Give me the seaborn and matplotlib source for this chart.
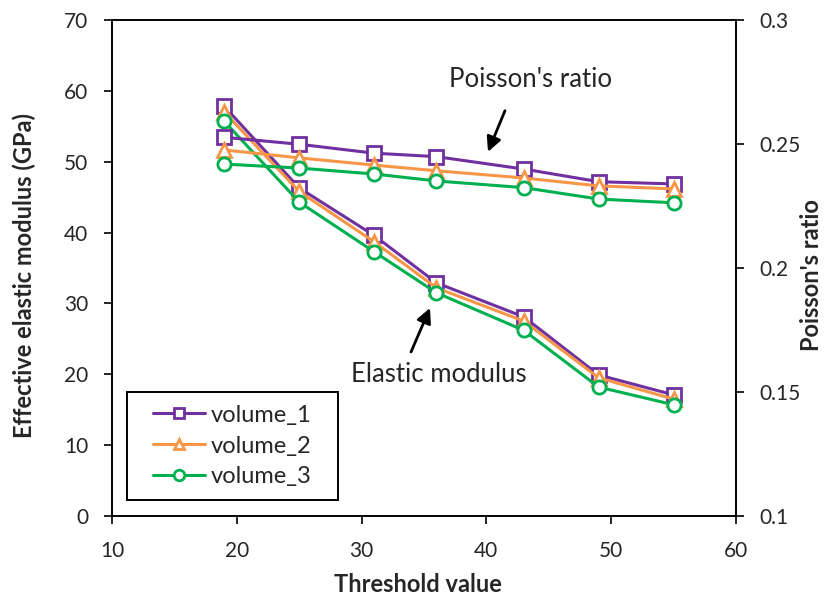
import pandas as pd
import numpy as np
import matplotlib
matplotlib.use("Agg")
import matplotlib.pyplot as plt
from matplotlib.patches import Rectangle
import seaborn as sns

# data
threshold = [19, 25, 31, 36, 43, 49, 55]
modulus_v1 = [57.8, 46.3, 39.6, 32.9, 28.1, 19.9, 17.1]
modulus_v2 = [57.0, 45.8, 38.7, 32.2, 27.5, 19.5, 16.5]
modulus_v3 = [55.7, 44.3, 37.3, 31.5, 26.2, 18.2, 15.7]
poisson_v1 = [0.2527, 0.2499, 0.2463, 0.2449, 0.2399, 0.2348, 0.2339]
poisson_v2 = [0.2476, 0.2444, 0.2415, 0.2392, 0.2363, 0.2331, 0.2319]
poisson_v3 = [0.2419, 0.2403, 0.2379, 0.2351, 0.2324, 0.2278, 0.2263]
series_names = ['volume_1', 'volume_2', 'volume_3']

colors = ['#7030A0', '#F79646', '#00B050']
markers = ['s', '^', 'o']

sns.set_style('white')
plt.rcParams['font.family'] = ['Lato', 'DejaVu Sans']

fig = plt.figure(figsize=(8.26, 6.06), dpi=100)
ax = fig.add_axes([0.1356, 0.1485, 0.7554, 0.8185])
ax2 = ax.twinx()

mod = [modulus_v1, modulus_v2, modulus_v3]
poi = [poisson_v1, poisson_v2, poisson_v3]
for i, name in enumerate(series_names):
    df = pd.DataFrame({'x': threshold, 'E': mod[i], 'nu': poi[i]})
    style = dict(color=colors[i], marker=markers[i], markersize=9.5,
                 markerfacecolor='white', markeredgecolor=colors[i],
                 markeredgewidth=2, linewidth=2.2)
    sns.lineplot(data=df, x='x', y='E', ax=ax, label=name, **style)
    sns.lineplot(data=df, x='x', y='nu', ax=ax2, legend=False, **style)

ax.set_xlim(10, 60)
ax.set_ylim(0, 70)
ax2.set_ylim(0.1, 0.3)
ax.set_xticks(range(10, 61, 10))
ax.set_yticks(range(0, 71, 10))
ax2.set_yticks([0.1, 0.15, 0.2, 0.25, 0.3])
ax2.set_yticklabels(['0.1', '0.15', '0.2', '0.25', '0.3'])

ax.set_xlabel('Threshold value', fontsize=17, fontweight='bold')
ax.set_ylabel('Effective elastic modulus (GPa)', fontsize=17, fontweight='bold')
ax2.set_ylabel("Poisson's ratio", fontsize=17, fontweight='bold')
ax.xaxis.set_label_coords(0.49, -0.115)
ax.yaxis.set_label_coords(-0.122, 0.485)
ax2.yaxis.set_label_coords(1.102, 0.485)

for a in (ax, ax2):
    a.tick_params(labelsize=15, direction='out', length=6, width=1.2, color='black')
    for s in a.spines.values():
        s.set_color('black')
        s.set_linewidth(1.2)
ax.tick_params(axis='x', bottom=True, pad=12)
ax.tick_params(axis='y', left=True, pad=11)
ax2.tick_params(axis='y', right=True, pad=11)

ax.text(43.53, 60.5, "Poisson's ratio", fontsize=18.5, ha='center', va='baseline')
ax.text(36.16, 18.9, "Elastic modulus", fontsize=18.5, ha='center', va='baseline')
arrow = dict(arrowstyle='-|>', color='black', lw=2, shrinkA=0, shrinkB=0,
             mutation_scale=22)
ax.annotate('', xy=(40.13, 51.4), xytext=(41.49, 57.2), arrowprops=arrow)
ax.annotate('', xy=(35.48, 29.35), xytext=(33.96, 23.15), arrowprops=arrow)

# legend box drawn separately to get Excel-like padding
ax.add_patch(Rectangle((0.024, 0.032), 0.338, 0.218, transform=ax.transAxes,
                       facecolor='white', edgecolor='black', lw=1.4, zorder=5))
leg = ax.legend(loc='center', bbox_to_anchor=(0.193, 0.141), fontsize=17,
                frameon=False, handlelength=2.2, borderpad=0, borderaxespad=0,
                labelspacing=0.42, handletextpad=0.25, markerscale=0.8)
leg.set_zorder(6)

fig.savefig('out.png', dpi=100)
